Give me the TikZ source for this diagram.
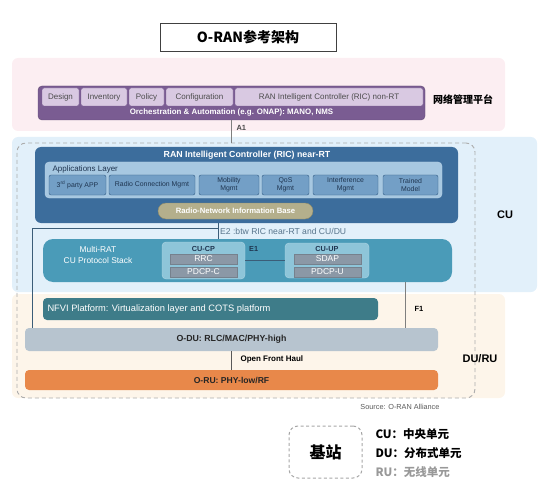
\documentclass[tikz,border=0pt]{standalone}
\usepackage{fontspec}
\setmainfont{Liberation Sans}
\newfontfamily\cjk{Noto Sans CJK SC}

\definecolor{pinkbg}{HTML}{FCEEF2}
\definecolor{cubg}{HTML}{E2F0FA}
\definecolor{dubg}{HTML}{FDF5EA}
\definecolor{oapurple}{HTML}{7A5C92}
\definecolor{mgmtfill}{HTML}{D9C9E2}
\definecolor{ricblue}{HTML}{3C6D9C}
\definecolor{layerfill}{HTML}{A7C8E1}
\definecolor{appfill}{HTML}{739FC6}
\definecolor{navy}{HTML}{1F3550}
\definecolor{rnibfill}{HTML}{B4AF8C}
\definecolor{rnibdark}{HTML}{8F8B68}
\definecolor{stackfill}{HTML}{4A9BB8}
\definecolor{cufill}{HTML}{8EC5D9}
\definecolor{protofill}{HTML}{8B98A6}
\definecolor{nfvifill}{HTML}{3E7C89}
\definecolor{odufill}{HTML}{B7C4CF}
\definecolor{orufill}{HTML}{E8884A}
\definecolor{e2col}{HTML}{3B5D78}
\definecolor{linegray}{HTML}{7F7F7F}

\newcommand{\fs}[1]{\fontsize{#1}{\dimexpr#1pt*6/5\relax}\selectfont}
% box from its corners (x1,y1) to (x2,y2), in pixels of the picture
\newcommand{\rbox}[7]{%
	\node[#1, minimum width={#5-#3}, minimum height={#6-#4}] (#2) at ({(#3+#5)/2},{(#4+#6)/2}) {#7};
}

\tikzset{
	band/.style={fill=#1, rounded corners=6pt, inner sep=0},
	titlebox/.style={draw=black!75, fill=white, line width=0.8pt, font=\fs{14}},
	oabox/.style={fill=oapurple, draw=oapurple!80!black, rounded corners=4pt},
	mgmt/.style={draw=oapurple, fill=mgmtfill, rounded corners=2pt, inner sep=0, text=black!70, font=\fs{8}, text height=6pt, text depth=1.8pt},
	dashbox/.style={draw=gray!65, dashed, dash pattern=on 4pt off 3pt, line width=0.9pt, rounded corners=9pt},
	ricbox/.style={fill=ricblue, rounded corners=6pt},
	applayer/.style={fill=layerfill, draw=layerfill!80!white, rounded corners=4pt},
	app/.style={draw=ricblue!85!black, fill=appfill, rounded corners=2pt, inner sep=0, text=navy, align=center, font=\fontsize{6.9}{7.6}\selectfont},
	rnib/.style={fill=rnibfill, draw=rnibdark, rounded corners=8pt, text=white, font=\fs{7.7}\bfseries},
	stack/.style={fill=stackfill, rounded corners=10pt},
	cubox/.style={fill=cufill, draw=cufill!70!white, rounded corners=4pt},
	cutitle/.style={text=navy, font=\fs{7.3}\bfseries, inner sep=1pt},
	proto/.style={fill=protofill, draw=protofill!85!black, inner sep=0, text=white, font=\fs{8.5}, text height=6.2pt, text depth=1pt},
	nfvi/.style={fill=nfvifill, rounded corners=4pt},
	odu/.style={fill=odufill, rounded corners=4pt, text=black!85, font=\fs{8.8}},
	oru/.style={fill=orufill, rounded corners=4pt, text=black!85, font=\fs{8.6}},
	link/.style={draw=linegray, line width=1pt},
	e2line/.style={draw=e2col, line width=0.9pt},
	legbox/.style={draw=gray!70, dashed, dash pattern=on 3pt off 2.5pt, line width=1pt, rounded corners=9pt},
	bandlbl/.style={font=\fs{11}\bfseries}
}

\begin{document}
\begin{tikzpicture}[x=1pt, y=-1pt, font=\fs{8}]
	\useasboundingbox (0,0) rectangle (557,500);
	
	%--- background bands ---
	\rbox{band=pinkbg}{mgmtband}{12}{58}{505}{131}{}
	\rbox{band=cubg}{cuband}{12}{137}{537}{292}{}
	\rbox{band=dubg}{duband}{12}{294}{505}{398}{}
	
	%--- title ---
	\rbox{titlebox}{title}{160}{23}{336}{51}{\cjk\bfseries O-RAN参考架构}
	
	%--- network management platform ---
	\rbox{oabox}{oa}{38}{86}{425}{120}{}
	\foreach \t/\a/\b [count=\i] in {Design/42/79, Inventory/81/127, Policy/129/164, Configuration/166/233, RAN Intelligent Controller (RIC) non-RT/235/423}{
		\rbox{mgmt}{m\i}{\a}{88}{\b}{106}{\t}}
	\node[text=white, font=\fs{7.9}\bfseries] (oatxt) at (231.5,112.5) {Orchestration \& Automation (e.g. ONAP): MANO, NMS};
	\node[font=\cjk\bfseries\fs{10}] (nmp) at (463,100) {网络管理平台};
	
	% base station (dashed)
	\rbox{dashbox}{dbox}{17}{143}{475}{398}{}
	
	%--- RIC near-RT ---
	\rbox{ricbox}{ric}{35}{147}{458}{223}{}
	\node[text=white, font=\fs{8.8}\bfseries] (rictxt) at (247,155) {RAN Intelligent Controller (RIC) near-RT};
	\rbox{applayer}{apps}{45}{162}{442}{198}{}
	\node[anchor=west, text=navy] (apptxt) at (49,169) {Applications Layer};
	\foreach \t/\a/\b [count=\i] in {3\textsuperscript{rd} party APP/49/106, Radio Connection Mgmt/109/195, Mobility\\Mgmt/199/259, QoS\\Mgmt/262/309, Interference\\Mgmt/313/378, Trained\\Model/383/438}{
		\rbox{app}{app\i}{\a}{175}{\b}{195}{\t}}
	\rbox{rnib}{rnib}{158}{203}{313}{219}{Radio-Network Information Base}
	
	%--- CU protocol stack ---
	\node[anchor=west, text=e2col!85, fill=cubg, inner sep=2pt, font=\fs{8.6}] (e2lbl) at (218,231) {E2 :btw RIC near-RT and CU/DU};
	\rbox{stack}{cus}{43}{239}{452}{282}{}
	\node[text=white, align=center, font=\fs{8.4}] (custxt) at (98,255) {Multi-RAT\\CU Protocol Stack};
	\rbox{cubox}{cucp}{162}{242}{245}{279}{}
	\rbox{cubox}{cuup}{285}{243}{369}{278}{}
	\node[cutitle] (cucptxt) at (203.5,248.5) {CU-CP};
	\node[cutitle] (cuuptxt) at (327,248.5) {CU-UP};
	\rbox{proto}{rrc}{170}{254}{237}{264}{RRC}
	\rbox{proto}{pdcpc}{170}{267}{237}{277}{PDCP-C}
	\rbox{proto}{sdap}{294}{254}{361}{264}{SDAP}
	\rbox{proto}{pdcpu}{294}{267}{361}{277}{PDCP-U}
	\node[cutitle, anchor=west] (e1lbl) at (248,249) {E1};
	
	\rbox{nfvi}{nfvi}{43}{298}{378}{320}{}
	\node[anchor=west, text=white, font=\fs{9.3}] (nfvitxt) at (44,309) {NFVI Platform: Virtualization layer and COTS platform};
	
	%--- DU / RU ---
	\rbox{odu}{odu}{25}{328}{438}{351}{\bfseries O-DU: RLC/MAC/PHY-high}
	\rbox{oru}{oru}{25}{370}{438}{390}{\bfseries O-RU: PHY-low/RF}
	\node[anchor=west, font=\fs{8}\bfseries] (ofh) at (237,359.5) {Open Front Haul};
	
	%--- interfaces ---
	\draw[link] (oa.south) -- (oa.south |- dbox.north);
	\node[anchor=west, text=black!70, font=\fs{7.5}\bfseries] (a1) at (233,128) {A1};
	\coordinate (e2k) at (218,228);
	\coordinate (e2c) at (32,228);
	\draw[e2line] (ric.south -| e2lbl.west) -- (cus.north -| e2lbl.west);
	\draw[e2line] (e2k) -- (e2c) -- (e2c |- odu.north);
	\draw[e2line] (cucp.east) -- (cuup.west);
	\coordinate (f1) at (405,282);
	\draw[link] (f1) -- (f1 |- odu.north);
	\node[anchor=west, font=\fs{7.5}\bfseries] (f1lbl) at (411,309) {F1};
	\draw[link, draw=black!65] (odu.south) -- (oru.north);
	
	% band labels
	\node[bandlbl] (culbl) at (505,215) {CU};
	\node[bandlbl] (durulbl) at (480,359) {DU/RU};
	\node[anchor=east, text=black!65, font=\fs{7.3}] (src) at (443,407) {Source: O-RAN Alliance};
	
	%--- legend ---
	\rbox{legbox}{bs}{289}{426}{362}{478}{\cjk\bfseries\fs{16}基站}
	\node[anchor=west, font=\cjk\bfseries\fs{11.5}] (lcu) at (372,434) {CU：中央单元};
	\node[anchor=west, font=\cjk\bfseries\fs{11.5}] (ldu) at (372,453) {DU：分布式单元};
	\node[anchor=west, text=black!40, font=\cjk\bfseries\fs{11.5}] (lru) at (372,472) {RU：无线单元};
\end{tikzpicture}
\end{document}
